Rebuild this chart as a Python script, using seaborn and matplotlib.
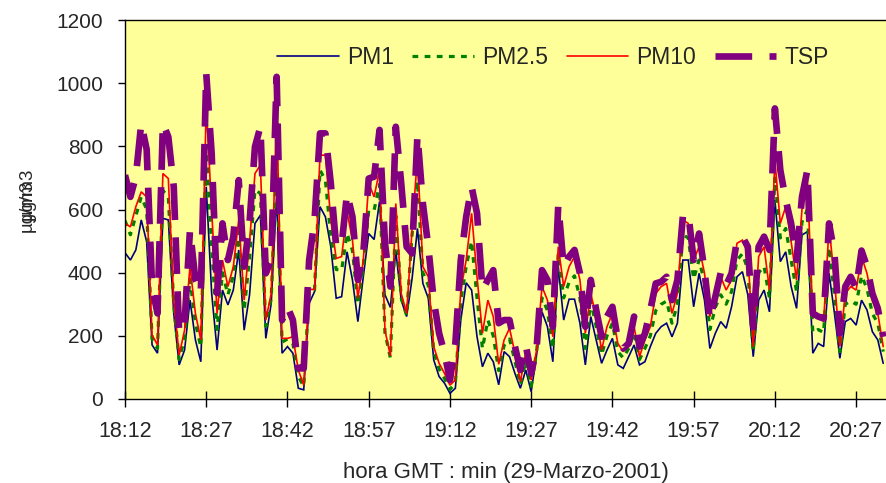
import numpy as np
import pandas as pd
import matplotlib
matplotlib.use("Agg")
import matplotlib.pyplot as plt
import seaborn as sns

# Minute-by-minute concentrations (ug/m3), 18:12 -> 20:32
pm1 = [463, 440, 472, 567, 498, 171, 145, 572, 567, 271, 108, 155, 313, 187, 118, 672,
       335, 155, 345, 298, 345, 472, 218, 330, 556, 582, 192, 303, 650, 145, 166, 145,
       34, 29, 303, 340, 609, 577, 482, 319, 324, 466, 377, 245, 387, 524, 505, 625,
       330, 290, 470, 313, 261, 380, 540, 366, 319, 124, 71, 50, 18, 34, 250, 368,
       345, 197, 102, 145, 118, 45, 150, 134, 81, 34, 92, 23, 140, 276, 229, 118,
       419, 250, 316, 316, 240, 108, 261, 187, 113, 155, 192, 108, 97, 134, 171, 108,
       118, 166, 208, 229, 240, 197, 240, 440, 440, 292, 398, 313, 160, 208, 245, 224,
       292, 387, 403, 330, 134, 313, 345, 276, 630, 435, 466, 356, 287, 519, 530, 145,
       176, 166, 398, 271, 129, 245, 255, 234, 313, 282, 213, 187, 113]

pm25 = [565, 520, 580, 640, 600, 190, 160, 660, 640, 300, 125, 190, 380, 240, 165, 800,
        480, 220, 400, 330, 390, 530, 280, 450, 662, 651, 230, 320, 756, 180, 190, 176,
        71, 40, 340, 345, 725, 693, 514, 410, 408, 524, 470, 300, 420, 598, 598, 680,
        210, 130, 580, 320, 265, 520, 690, 400, 360, 150, 95, 65, 30, 50, 310, 420,
        500, 320, 160, 250, 200, 90, 170, 190, 120, 45, 120, 40, 150, 320, 280, 160,
        460, 320, 370, 390, 320, 160, 310, 230, 140, 200, 240, 150, 130, 160, 210, 125,
        160, 200, 280, 300, 310, 240, 300, 520, 510, 380, 440, 370, 220, 290, 330, 300,
        340, 440, 460, 410, 150, 400, 420, 320, 700, 510, 540, 440, 340, 560, 600, 210,
        220, 210, 480, 330, 150, 300, 310, 300, 390, 350, 270, 240, 150]

pm10 = [556, 545, 609, 656, 640, 203, 171, 714, 698, 313, 139, 218, 419, 271, 187, 930,
        598, 271, 440, 356, 419, 567, 313, 500, 714, 741, 250, 334, 915, 192, 192, 197,
        92, 44, 347, 347, 772, 772, 567, 445, 451, 593, 503, 319, 440, 683, 640, 725,
        218, 136, 619, 334, 271, 535, 767, 419, 387, 166, 113, 81, 44, 60, 345, 440,
        588, 387, 208, 313, 261, 110, 187, 224, 145, 55, 145, 60, 155, 356, 313, 197,
        482, 356, 419, 451, 377, 208, 334, 261, 155, 229, 271, 176, 150, 176, 229, 134,
        187, 229, 334, 356, 366, 271, 334, 567, 556, 440, 482, 398, 261, 334, 387, 345,
        377, 493, 503, 461, 166, 451, 482, 345, 756, 556, 609, 498, 377, 600, 693, 261,
        261, 245, 546, 377, 166, 334, 356, 345, 451, 398, 313, 271, 166]

tsp = [709, 640, 704, 873, 790, 356, 271, 873, 830, 672, 208, 240, 535, 377, 335, 1031,
       778, 335, 556, 440, 514, 693, 419, 560, 799, 862, 398, 440, 1020, 250, 292, 250,
       97, 97, 440, 567, 841, 841, 683, 482, 487, 651, 577, 377, 461, 698, 704, 852,
       493, 356, 862, 683, 482, 461, 836, 619, 482, 313, 208, 145, 60, 176, 440, 577,
       672, 588, 345, 377, 408, 240, 250, 250, 166, 92, 171, 81, 160, 408, 377, 229,
       614, 419, 451, 472, 398, 229, 377, 282, 197, 261, 292, 187, 160, 176, 261, 166,
       208, 282, 366, 371, 387, 313, 377, 577, 588, 440, 524, 408, 250, 324, 400, 360,
       398, 503, 514, 482, 229, 482, 514, 472, 920, 725, 630, 556, 440, 640, 725, 271,
       261, 255, 556, 461, 208, 356, 387, 350, 470, 419, 334, 287, 197]

tick_labels = ["18:12", "18:27", "18:42", "18:57", "19:12",
               "19:27", "19:42", "19:57", "20:12", "20:27"]
series_names = ["PM1", "PM2.5", "PM10", "TSP"]

minutes = np.arange(len(pm1))
df = pd.DataFrame({"min": minutes, "PM1": pm1, "PM2.5": pm25, "PM10": pm10, "TSP": tsp})

sns.set_theme(style="white")
plt.rcParams["font.family"] = ["Liberation Sans", "DejaVu Sans"]

W, H = 887, 483
fig = plt.figure(figsize=(W / 100, H / 100), dpi=100)
ax = fig.add_axes([125 / W, (H - 399) / H, 762 / W, 379 / H])
ax.set_facecolor("#FFFF99")

styles = {
    "PM1": dict(color="#000080", lw=1.2, dashes=None),
    "PM2.5": dict(color="#008000", lw=2.3, dashes=(1.8, 2.0)),
    "PM10": dict(color="#FF0000", lw=1.2, dashes=None),
    "TSP": dict(color="#800080", lw=4.8, dashes=(5.5, 2.6)),
}
for name in series_names:
    st = styles[name]
    sns.lineplot(data=df, x="min", y=name, ax=ax, color=st["color"],
                 linewidth=st["lw"], label=name)
    line = ax.lines[-1]
    line.set_solid_joinstyle("miter")
    if st["dashes"] is not None:
        line.set_dashes(st["dashes"])
        line.set_dash_capstyle("butt")

ax.set_xlim(0, 140.7)
ax.set_ylim(0, 1200)
ax.set_yticks(np.arange(0, 1201, 200))
ax.set_xticks(np.arange(0, 15 * len(tick_labels), 15))
ax.set_xticklabels(tick_labels)

for side in ["left", "bottom", "top"]:
    ax.spines[side].set_visible(True)
    ax.spines[side].set_color("black")
    ax.spines[side].set_linewidth(1.0)
ax.spines["right"].set_visible(False)

ax.tick_params(axis="y", direction="out", length=5, width=1, color="black",
               pad=11, labelsize=15, left=True)
ax.tick_params(axis="x", direction="inout", length=11, width=1, color="black",
               pad=10, labelsize=15.5, bottom=True)

ax.set_xlabel("hora GMT : min (29-Marzo-2001)", fontsize=16)
ax.xaxis.set_label_coords(0.5, -0.165)
ax.set_ylabel("")

# overlapping unit labels on the y axis
fig.text(27 / W, 1 - 206 / H, "µg/m3", rotation=90, fontsize=13.5,
         ha="center", va="center")
fig.text(27 / W, 1 - 194 / H, "µg/m3", rotation=90, fontsize=13.5,
         ha="center", va="center")

leg = ax.legend(ncol=4, frameon=False, loc="center",
                bbox_to_anchor=(553 / W, 1 - 58 / H), bbox_transform=fig.transFigure,
                fontsize=16.5, handlelength=2.7, handletextpad=0.35, columnspacing=0.8)

fig.savefig("out.png", dpi=100)
